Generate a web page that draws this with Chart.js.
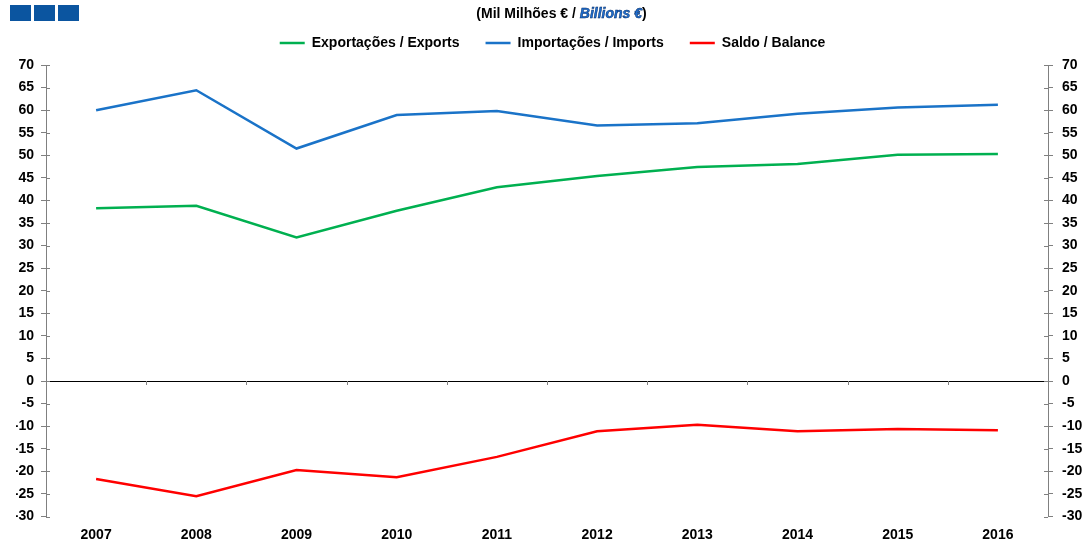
<!DOCTYPE html>
<html>
<head>
<meta charset="utf-8">
<script src="https://cdn.jsdelivr.net/npm/chart.js@4.4.1/dist/chart.umd.min.js"></script>
<style>
html,body{margin:0;padding:0;background:#fff;}
#wrap{position:relative;width:1089px;height:545px;overflow:hidden;}
#c{position:absolute;left:0;top:0;}
.sq{position:absolute;top:5px;height:16px;background:#0b55a0;}
#title{position:absolute;top:5px;left:0;width:1123px;text-align:center;font:bold 14px "Liberation Sans",Arial,sans-serif;line-height:17px;color:#000;white-space:nowrap;}
#title i{color:#1f6fd0;-webkit-text-stroke:0.5px #002a66;}
</style>
</head>
<body>
<div id="wrap">
  <div class="sq" style="left:10px;width:21px;"></div>
  <div class="sq" style="left:34px;width:21px;"></div>
  <div class="sq" style="left:58px;width:21px;"></div>
  <canvas id="c" width="1089" height="545"></canvas>
  <div id="title">(Mil Milhões € / <i>Billions €</i>)</div>
</div>
<script>
const categories = ['2007','2008','2009','2010','2011','2012','2013','2014','2015','2016'];
const exportsValues = [38.3, 38.8, 31.8, 37.7, 42.9, 45.4, 47.4, 48.1, 50.1, 50.3];
const importsValues = [60.0, 64.4, 51.5, 58.9, 59.8, 56.6, 57.1, 59.2, 60.6, 61.2];
const balanceValues = [-21.7, -25.5, -19.7, -21.3, -16.8, -11.1, -9.7, -11.1, -10.6, -10.9];
const seriesNames = ['Exportações / Exports', 'Importações / Imports', 'Saldo / Balance'];
const yMin = -30, yMax = 70, yStep = 5;

const FONT = {family: '"Liberation Sans", Arial, sans-serif', size: 14, weight: 'bold'};
const AXIS_GREY = '#808080';

const legendSpacer = {
  id: 'legendSpacer',
  afterInit(chart) {
    const lg = chart.legend;
    if (!lg) return;
    const orig = lg.fit.bind(lg);
    lg.fit = function () { orig(); this.height += 5; };
  }
};

const innerTicks = {
  id: 'innerTicks',
  afterDraw(chart) {
    const ctx = chart.ctx;
    const area = chart.chartArea;
    ctx.save();
    ctx.strokeStyle = AXIS_GREY;
    ctx.lineWidth = 1;
    ['y', 'y2'].forEach(id => {
      const s = chart.scales[id];
      const left = s.position === 'left';
      s.ticks.forEach((t, i) => {
        const py = Math.round(s.getPixelForTick(i)) + 0.5;
        ctx.beginPath();
        if (left) { ctx.moveTo(area.left, py); ctx.lineTo(area.left + 4, py); }
        else { ctx.moveTo(area.right, py); ctx.lineTo(area.right - 4, py); }
        ctx.stroke();
      });
    });
    const xs = chart.scales.x;
    const y0 = Math.round(chart.scales.y.getPixelForValue(0));
    for (let i = 0; i < categories.length - 1; i++) {
      const px = Math.round((xs.getPixelForValue(i) + xs.getPixelForValue(i + 1)) / 2) + 0.5;
      ctx.beginPath();
      ctx.moveTo(px, y0);
      ctx.lineTo(px, y0 + 4);
      ctx.stroke();
    }
    ctx.restore();
  }
};

const ds = (label, data, color) => ({
  label, data, borderColor: color, backgroundColor: color,
  borderWidth: 2.5, pointRadius: 0, pointHoverRadius: 0, tension: 0, fill: false, yAxisID: 'y'
});

new Chart(document.getElementById('c'), {
  type: 'line',
  data: {
    labels: categories,
    datasets: [
      ds(seriesNames[0], exportsValues, '#00b050'),
      ds(seriesNames[1], importsValues, '#1a73c8'),
      ds(seriesNames[2], balanceValues, '#ff0000')
    ]
  },
  plugins: [legendSpacer, innerTicks],
  options: {
    responsive: false,
    devicePixelRatio: 1,
    animation: false,
    layout: {padding: {top: 10, left: 16, right: 0, bottom: 0}},
    plugins: {
      tooltip: {enabled: false},
      title: {display: false},
      legend: {
        display: true,
        position: 'top',
        labels: {
          usePointStyle: true,
          pointStyle: 'line',
          pointStyleWidth: 25,
          padding: 26,
          color: '#000',
          font: FONT
        }
      }
    },
    scales: {
      x: {
        type: 'category',
        offset: true,
        grid: {display: false, drawTicks: false},
        border: {display: false},
        ticks: {color: '#000', font: FONT, padding: 10, maxRotation: 0, autoSkip: false},
        afterFit(s) { s.height = 28.5; }
      },
      y: {
        position: 'left',
        min: yMin, max: yMax,
        ticks: {stepSize: yStep, color: '#000', font: FONT, padding: 7},
        grid: {
          drawOnChartArea: true,
          color: c => (c.tick && c.tick.value === 0 ? '#000000' : 'rgba(0,0,0,0)'),
          tickColor: AXIS_GREY, tickLength: 5, lineWidth: 1
        },
        border: {color: AXIS_GREY, width: 1},
        afterFit(s) { s.width = 30; }
      },
      y2: {
        position: 'right',
        min: yMin, max: yMax,
        ticks: {stepSize: yStep, color: '#000', font: FONT, padding: 9},
        grid: {drawOnChartArea: false, tickColor: AXIS_GREY, tickLength: 5, lineWidth: 1},
        border: {color: AXIS_GREY, width: 1},
        afterFit(s) { s.width = 41; }
      }
    }
  }
});
</script>
</body>
</html>
